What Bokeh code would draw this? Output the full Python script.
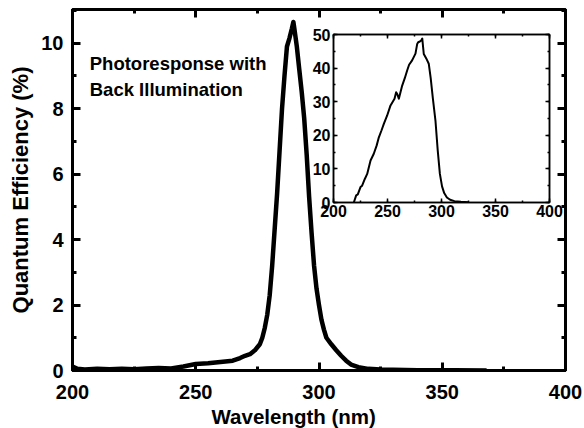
from bokeh.plotting import figure
from bokeh.models import Range1d, LinearAxis, Label, SingleIntervalTicker, Title
from bokeh.layouts import column
from bokeh.embed import file_html
from bokeh.resources import INLINE

# ---- data ----
wavelength = [200, 202, 205, 210, 215, 220, 225, 230, 235, 240, 245, 250, 255, 260, 265, 268, 270,
              272, 274, 276, 277, 278, 279, 280, 281, 282, 283, 284, 285, 286, 287, 288, 289, 289.6,
              290, 291, 292, 293, 294, 295, 296, 297, 298, 299, 300, 301, 302, 303, 305, 307, 309,
              311, 313, 316, 320, 325, 330, 340, 355, 368]
qe = [0.12, 0.05, 0.03, 0.05, 0.04, 0.05, 0.04, 0.06, 0.08, 0.06, 0.12, 0.2, 0.22, 0.26, 0.3, 0.38, 0.45,
      0.5, 0.62, 0.8, 1.0, 1.3, 1.7, 2.3, 3.2, 4.3, 5.4, 6.7, 8.0, 9.0, 9.9, 10.15, 10.45, 10.65,
      10.45, 9.9, 9.2, 8.5, 7.7, 6.6, 5.3, 4.2, 3.2, 2.5, 2.0, 1.55, 1.25, 1.0, 0.8, 0.62, 0.45,
      0.3, 0.18, 0.1, 0.05, 0.03, 0.02, 0.01, 0.01, 0.0]

inset_wavelength = [218.8, 221, 222.5, 225, 226.5, 229, 231.2, 234.3, 237.3, 240, 242, 244.5, 246.6,
                    249.7, 252.8, 256.5, 258, 259, 260.5, 263.6, 266, 268.2, 270, 272.8, 275.9, 277.5,
                    278.4, 280, 281.2, 282.2, 283.6, 286, 288.2, 290, 292, 294.4, 296.5, 298.5, 300.5,
                    302.5, 305, 308, 312, 318, 325]
inset_qe = [0, 2.1, 2.4, 4.6, 5.0, 7.0, 8.5, 12.5, 14.5, 17, 19.4, 21.5, 23.4,
            25.9, 28.9, 30.9, 32.8, 32.3, 30.9, 34.8, 37, 39.3, 41, 42.3, 44.3, 47.2,
            47.7, 47.9, 48.2, 48.8, 44.2, 42.8, 41.3, 37, 31, 24.4, 15.5, 8.5, 4.8,
            2.8, 1.5, 0.8, 0.4, 0.2, 0.1]

x_label = "Wavelength (nm)"
y_label = "Quantum Efficiency (%)"
annotation_lines = ["Photoresponse with", "Back Illumination"]

FONT = "Liberation Sans"


def style_axis(ax, size, lw, tin, minor_in, standoff, show_labels=True):
    ax.axis_line_width = lw
    ax.axis_line_color = "black"
    ax.major_tick_line_width = lw
    ax.minor_tick_line_width = lw
    ax.major_tick_in = tin
    ax.major_tick_out = 0
    ax.minor_tick_in = minor_in
    ax.minor_tick_out = 0
    ax.major_label_text_font = FONT
    ax.major_label_text_font_style = "bold"
    ax.major_label_text_color = "black"
    if show_labels:
        ax.major_label_text_font_size = size
        ax.major_label_standoff = standoff
    else:
        ax.major_label_text_font_size = "1px"
        ax.major_label_text_alpha = 0
        ax.major_label_standoff = 0


def style_label(ax, size, standoff):
    ax.axis_label_text_font = FONT
    ax.axis_label_text_font_style = "bold"
    ax.axis_label_text_font_size = size
    ax.axis_label_text_color = "black"
    ax.axis_label_standoff = standoff


# ---- main figure ----
p = figure(width=584, height=428, output_backend="svg", toolbar_location=None,
           x_range=Range1d(200, 400), y_range=Range1d(0, 11.03),
           min_border_left=72, min_border_right=19, min_border_top=9, min_border_bottom=57)
p.grid.visible = False
p.outline_line_color = "black"
p.outline_line_width = 3
p.background_fill_color = "white"
p.border_fill_color = "white"

p.xaxis.ticker = SingleIntervalTicker(interval=50, num_minor_ticks=2)
p.yaxis.ticker = SingleIntervalTicker(interval=2, num_minor_ticks=2)
style_axis(p.xaxis[0], "20px", 3, 8, 4, 14)
p.xaxis.major_label_text_line_height = 1.0
style_axis(p.yaxis[0], "20px", 3, 8, 4, 9)
p.yaxis.axis_label = y_label
style_label(p.yaxis[0], "22px", 5)

# x-axis title: the reference places it left of the frame centre
p.add_layout(Title(text=x_label, align="left", offset=139, standoff=2,
                   text_font=FONT, text_font_style="bold", text_font_size="20.5px",
                   text_line_height=1.0, text_color="black"), "below")

top_ax = LinearAxis(ticker=SingleIntervalTicker(interval=50, num_minor_ticks=2))
style_axis(top_ax, "20px", 3, 8, 4, 0, show_labels=False)
p.add_layout(top_ax, "above")
right_ax = LinearAxis(ticker=SingleIntervalTicker(interval=2, num_minor_ticks=2))
style_axis(right_ax, "20px", 3, 8, 4, 0, show_labels=False)
p.add_layout(right_ax, "right")

p.line(wavelength, qe, line_color="black", line_width=4.5, line_join="round")

p.add_layout(Label(x=207, y=9.38, text=annotation_lines[0], text_baseline="alphabetic",
                   text_font=FONT, text_font_style="bold", text_font_size="18.5px", text_color="black"))
p.add_layout(Label(x=207, y=8.6, text=annotation_lines[1], text_baseline="alphabetic",
                   text_font=FONT, text_font_style="bold", text_font_size="18.5px", text_color="black"))

# ---- inset figure (absolutely positioned over the main plot) ----
inset = figure(width=307, height=200, output_backend="svg", toolbar_location=None,
               x_range=Range1d(200, 400), y_range=Range1d(0, 50),
               min_border_left=72, min_border_right=19, min_border_top=10, min_border_bottom=22,
               styles={"position": "absolute", "left": "261px", "top": "24px", "z-index": "10"})
inset.grid.visible = False
inset.outline_line_color = "black"
inset.outline_line_width = 1.5
inset.background_fill_color = "white"
inset.border_fill_color = None
inset.xaxis.ticker = SingleIntervalTicker(interval=50, num_minor_ticks=2)
inset.yaxis.ticker = SingleIntervalTicker(interval=10, num_minor_ticks=2)
style_axis(inset.xaxis[0], "16px", 1.5, 4, 2, 2)
style_axis(inset.yaxis[0], "16px", 1.5, 4, 2, 3)
itop = LinearAxis(ticker=SingleIntervalTicker(interval=50, num_minor_ticks=2))
style_axis(itop, "16px", 1.5, 4, 2, 0, show_labels=False)
inset.add_layout(itop, "above")
iright = LinearAxis(ticker=SingleIntervalTicker(interval=10, num_minor_ticks=2))
style_axis(iright, "16px", 1.5, 4, 2, 0, show_labels=False)
inset.add_layout(iright, "right")
inset.line(inset_wavelength, inset_qe, line_color="black", line_width=2, line_join="round")

layout = column(p, inset)
open("out.html", "w").write(file_html(layout, INLINE))
